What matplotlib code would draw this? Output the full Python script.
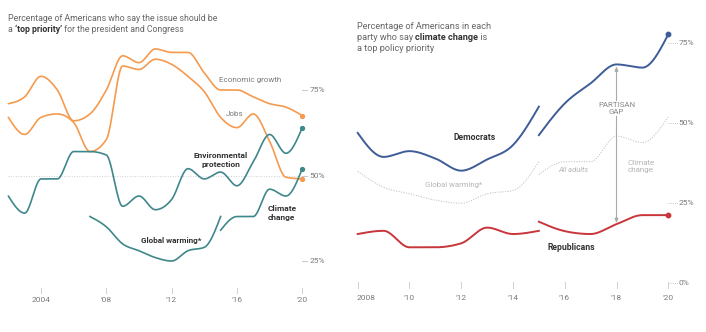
import numpy as np
import matplotlib
matplotlib.use("Agg")
import matplotlib.pyplot as plt

W, H, DPI = 706, 332, 100
plt.rcParams["font.family"] = ["Roboto", "DejaVu Sans"]

# ---- data: share of Americans calling an issue a "top priority" (%) ----
years = list(range(2002, 2021))
economy = [71, 73, 79, 75, 66, 68, 75, 85, 83, 87, 86, 86, 80, 75, 75, 73, 71, 70, 67.5]
jobs = [67, 62, 67, 68, 65.5, 57, 60.5, 82, 81, 84, 82.5, 79, 74.5, 67, 64, 68, 60, 49.5, 49]
environment = [44, 39, 49, 49, 57, 57, 56, 41, 44, 40, 43, 52, 49, 51, 47, 54, 62, 56.5, 64]
gw_years = list(range(2007, 2016))
global_warming = [38, 35, 30, 28, 26, 25, 28, 29, 38]
cc_years = list(range(2015, 2021))
climate_change = [34, 38, 38, 46, 44, 52]

# ---- data: climate change as a top priority by party (%) ----
party_gw_years = list(range(2008, 2016))
dem_gw = [47, 39.5, 41.3, 39, 35.2, 38.7, 43.2, 55.2]
rep_gw = [15.4, 16.4, 11.25, 11.25, 12.5, 17.4, 15.4, 16.4]
party_cc_years = list(range(2015, 2021))
dem_cc = [46.3, 56.2, 62.5, 68.4, 67.4, 77.8]
rep_cc = [19.25, 16.3, 15.4, 18.5, 21.3, 21.3]
adults_gw = global_warming[1:]
adults_cc = climate_change

ORANGE = "#f59a4e"
TEAL = "#3f878b"
BLUE = "#3d5c98"
RED = "#c8363b"
LIGHT = "#c6c6c6"
GRAY = "#7a7a7a"
DARK = "#333333"
TITLE = "#666666"


def monotone(x, y, n=40):
    """Monotone cubic (Steffen) interpolation, like d3.curveMonotoneX."""
    x = np.asarray(x, float)
    y = np.asarray(y, float)
    h = np.diff(x)
    s = np.diff(y) / h
    m = np.zeros_like(y)
    sg = lambda v: -1.0 if v < 0 else 1.0
    for i in range(1, len(x) - 1):
        p = (s[i - 1] * h[i] + s[i] * h[i - 1]) / (h[i - 1] + h[i])
        m[i] = (sg(s[i - 1]) + sg(s[i])) * min(abs(s[i - 1]), abs(s[i]), 0.5 * abs(p))
    m[0] = (3 * s[0] - m[1]) / 2
    m[-1] = (3 * s[-1] - m[-2]) / 2
    xs, ys = [], []
    for i in range(len(x) - 1):
        t = np.linspace(0, 1, n, endpoint=(i == len(x) - 2))
        h00 = 2 * t**3 - 3 * t**2 + 1
        h10 = t**3 - 2 * t**2 + t
        h01 = -2 * t**3 + 3 * t**2
        h11 = t**3 - t**2
        xs.append(x[i] + t * h[i])
        ys.append(h00 * y[i] + h10 * h[i] * m[i] + h01 * y[i + 1] + h11 * h[i] * m[i + 1])
    return np.concatenate(xs), np.concatenate(ys)


fig = plt.figure(figsize=(W / DPI, H / DPI), dpi=DPI)
fig.patch.set_facecolor("white")


def px(x, y):
    return x / W, 1 - y / H


def ftext(x, y, s, **kw):
    kw.setdefault("transform", fig.transFigure)
    return fig.text(*px(x, y), s, **kw)


def rich(x, y, parts, size):
    r = fig.canvas.get_renderer()
    for s, weight, color in parts:
        t = ftext(x, y, s, fontsize=size, fontweight=weight, color=color,
                  va="baseline", ha="left")
        x += t.get_window_extent(r).width


def panel(left_px, width_px, x0_px, x0_year, px_per_year, y_ref_px, y_ref_val, px_per_pct):
    ax = fig.add_axes([left_px / W, 0, width_px / W, 1])
    ax.set_xlim(x0_year - (x0_px - left_px) / px_per_year,
                x0_year + (left_px + width_px - x0_px) / px_per_year)
    ax.set_ylim(y_ref_val - (H - y_ref_px) / px_per_pct, y_ref_val + y_ref_px / px_per_pct)
    ax.axis("off")
    return ax


# ---------------- left panel ----------------
axl = panel(0, 330, 41, 2004, 16.33, 175.5, 50, 3.42)

axl.plot([2002, 2020], [50, 50], color="#cfcfcf", lw=0.7, ls=(0, (1, 1.6)), zorder=1)
for v in (75, 50, 25):
    axl.plot([2020, 2020.3], [v, v], color="#c8c8c8", lw=0.7, zorder=1)
    axl.text(2020.45, v, f"{v}%", fontsize=6.0, color=GRAY, va="center", ha="left")

for yr, lab in zip([2004, 2008, 2012, 2016, 2020], ["2004", "\u201908", "\u201912", "\u201916", "\u201920"]):
    axl.plot([yr, yr], [50 - (288 - 175.5) / 3.42, 50 - (292.5 - 175.5) / 3.42],
             color="#d0d0d0", lw=0.7)
    axl.text(yr, 50 - (300 - 175.5) / 3.42, lab, fontsize=6.0, color=GRAY,
             ha="center", va="center")

LW = 1.2
for yv, col in [(economy, ORANGE), (jobs, ORANGE), (environment, TEAL)]:
    xx, yy = monotone(years, yv)
    axl.plot(xx, yy, color=col, lw=LW, solid_capstyle="round", zorder=3)
xx, yy = monotone(gw_years, global_warming)
axl.plot(xx, yy, color=TEAL, lw=LW, zorder=3)
xx, yy = monotone(cc_years, climate_change)
axl.plot(xx, yy, color=TEAL, lw=LW, zorder=3)

for yv, col in [(economy, ORANGE), (jobs, ORANGE), (environment, TEAL), (climate_change, TEAL)]:
    axl.plot(2020, yv[-1], "o", ms=2.8, color=col, zorder=4)

ftext(219, 80, "Economic growth", fontsize=5.8, color=GRAY, va="center", ha="left")
ftext(226, 114, "Jobs", fontsize=5.8, color=GRAY, va="center", ha="left")
ftext(220.5, 160, "Environmental\nprotection", fontsize=6.0, color=DARK, fontweight="bold",
      va="center", ha="center", linespacing=1.3)
ftext(268, 213, "Climate\nchange", fontsize=6.0, color=DARK, fontweight="bold",
      va="center", ha="left", linespacing=1.3)
ftext(171.5, 240, "Global warming*", fontsize=5.9, color=DARK, fontweight="bold",
      va="center", ha="center")

rich(8.3, 20.8, [("Percentage of Americans who say the issue should be", "normal", TITLE)], 6.35)
rich(8.3, 31.8, [("a ", "normal", TITLE), ("\u2018top priority\u2019", "bold", DARK),
                 (" for the president and Congress", "normal", TITLE)], 6.35)

# ---------------- right panel ----------------
axr = panel(340, 366, 357.7, 2008, 25.88, 283.3, 0, 3.2)

for v in (75, 50, 25, 0):
    axr.plot([2020, 2020.36], [v, v], color="#c4c4c4", lw=0.7, ls=(0, (1, 1.2)))
    axr.text(2020.4, v, f"{v}%", fontsize=6.0, color=GRAY, va="center", ha="left")

for yr in range(2008, 2021, 2):
    axr.plot([yr, yr], [(283.3 - 282) / 3.2, -(287.5 - 283.3) / 3.2],
             color="#d0d0d0", lw=0.7)
    lab = "2008" if yr == 2008 else f"\u2019{yr % 100:02d}"
    axr.text(yr - (0.05 if yr == 2008 else 0), -(298 - 283.3) / 3.2, lab, fontsize=6.0,
             color=GRAY, ha="left" if yr == 2008 else "center", va="center")

for xs_, ys_ in [(party_gw_years, adults_gw), (party_cc_years, adults_cc)]:
    xx, yy = monotone(xs_, ys_)
    axr.plot(xx, yy, color=LIGHT, lw=0.8, ls=(0, (1, 1.3)), zorder=2)

for xs_, ys_, col in [(party_gw_years, dem_gw, BLUE), (party_cc_years, dem_cc, BLUE),
                      (party_gw_years, rep_gw, RED), (party_cc_years, rep_cc, RED)]:
    xx, yy = monotone(xs_, ys_)
    axr.plot(xx, yy, color=col, lw=1.4, zorder=3)
axr.plot(2020, dem_cc[-1], "o", ms=3.2, color=BLUE, zorder=4)
axr.plot(2020, rep_cc[-1], "o", ms=3.2, color=RED, zorder=4)

gap_i = party_cc_years.index(2018)
axr.annotate("", xy=(2018, dem_cc[gap_i] - 0.6), xytext=(2018, rep_cc[gap_i] + 0.3),
             arrowprops=dict(arrowstyle="<|-|>,head_length=0.25,head_width=0.1",
                             color="#a8a8a8", lw=0.8, shrinkA=0, shrinkB=0), zorder=2)
ftext(616.5, 108.5, "PARTISAN\nGAP", fontsize=5.7, color="#888888", ha="center", va="center",
      linespacing=1.25, bbox=dict(boxstyle="square,pad=0.15", fc="white", ec="none"), zorder=5)

ftext(475, 137.5, "Democrats", fontsize=6.2, color=DARK, fontweight="bold", ha="center", va="center")
ftext(571, 247.5, "Republicans", fontsize=6.2, color=DARK, fontweight="bold", ha="center", va="center")
ftext(453.5, 185, "Global warming*", fontsize=5.6, color="#b5b5b5", ha="center", va="center")
ftext(573.5, 170, "All adults", fontsize=5.4, color="#b5b5b5", ha="center", va="center",
      style="italic")
ftext(641, 166.5, "Climate\nchange", fontsize=5.8, color="#b5b5b5", ha="center", va="center",
      linespacing=1.3)

rich(356.7, 28.8, [("Percentage of Americans in each", "normal", TITLE)], 6.6)
rich(356.7, 40.0, [("party who say ", "normal", TITLE), ("climate change", "bold", DARK),
                   (" is", "normal", TITLE)], 6.6)
rich(356.7, 51.2, [("a top policy priority", "normal", TITLE)], 6.6)

fig.savefig("out.png", dpi=DPI)
